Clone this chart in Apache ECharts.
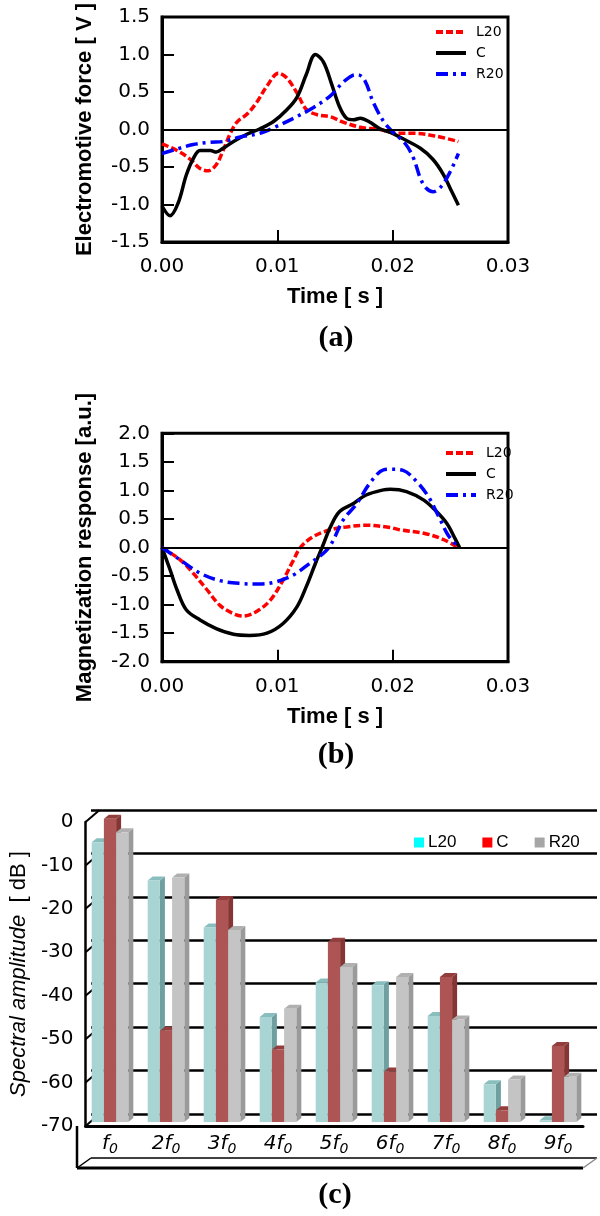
<!DOCTYPE html>
<html>
<head>
<meta charset="utf-8">
<script src="https://cdn.jsdelivr.net/npm/echarts@6/dist/echarts.min.js"></script>
<style>
  html, body { margin: 0; padding: 0; background: #fff; }
  body { width: 600px; height: 1216px; position: relative; overflow: hidden; }
  .panel { position: absolute; left: 0; width: 600px; }
</style>
</head>
<body>
<div id="chart_a" class="panel" style="top:0;height:390px"></div>
<div id="chart_b" class="panel" style="top:380px;height:410px"></div>
<div id="chart_c" class="panel" style="top:790px;height:426px"></div>
<script>
// ---- (a) electromotive force [V] vs time [s] ----
const emfTimeL20 = [0.0000, 0.0013, 0.0024, 0.0033, 0.0040, 0.0047, 0.0053, 0.0059, 0.0065, 0.0074, 0.0082, 0.0091, 0.0101, 0.0108, 0.0117, 0.0125, 0.0134, 0.0146, 0.0157, 0.0172, 0.0189, 0.0203, 0.0218, 0.0238, 0.0257];
const emfL20     = [-0.19, -0.28, -0.39, -0.52, -0.55, -0.47, -0.28, -0.06, 0.10, 0.21, 0.36, 0.58, 0.75, 0.69, 0.49, 0.27, 0.20, 0.17, 0.10, 0.03, 0.00, -0.05, -0.05, -0.09, -0.16];
const emfTimeC   = [0.0000, 0.0007, 0.0014, 0.0021, 0.0027, 0.0033, 0.0042, 0.0047, 0.0053, 0.0062, 0.0074, 0.0085, 0.0097, 0.0108, 0.0117, 0.0125, 0.0133, 0.0140, 0.0147, 0.0154, 0.0160, 0.0166, 0.0172, 0.0180, 0.0189, 0.0200, 0.0206, 0.0224, 0.0235, 0.0244, 0.0251, 0.0257];
const emfC       = [-1.02, -1.15, -0.98, -0.61, -0.39, -0.28, -0.28, -0.30, -0.25, -0.16, -0.06, 0.01, 0.11, 0.26, 0.43, 0.73, 1.00, 0.90, 0.61, 0.30, 0.15, 0.13, 0.15, 0.10, 0.01, -0.05, -0.10, -0.25, -0.40, -0.60, -0.82, -1.01];
const emfTimeR20 = [0.0000, 0.0013, 0.0027, 0.0042, 0.0053, 0.0068, 0.0085, 0.0099, 0.0114, 0.0131, 0.0146, 0.0157, 0.0165, 0.0170, 0.0176, 0.0183, 0.0192, 0.0200, 0.0211, 0.0218, 0.0224, 0.0229, 0.0235, 0.0242, 0.0250, 0.0257];
const emfR20     = [-0.32, -0.26, -0.20, -0.17, -0.16, -0.10, -0.05, 0.04, 0.15, 0.29, 0.45, 0.63, 0.72, 0.73, 0.65, 0.37, 0.11, -0.03, -0.19, -0.38, -0.65, -0.78, -0.83, -0.76, -0.56, -0.32];

// ---- (b) magnetization response [a.u.] vs time [s] ----
const magTimeL20 = [0, 0.0016, 0.0027, 0.0039, 0.0050, 0.0062, 0.0070, 0.0082, 0.0094, 0.0105, 0.0114, 0.0120, 0.0131, 0.0146, 0.0160, 0.0177, 0.0198, 0.0206, 0.0227, 0.0244, 0.0257];
const magL20     = [0, -0.22, -0.45, -0.74, -1.01, -1.16, -1.20, -1.12, -0.92, -0.57, -0.22, 0.00, 0.19, 0.31, 0.36, 0.39, 0.35, 0.31, 0.25, 0.14, 0.00];
const magTimeC   = [0, 0.0007, 0.0013, 0.0021, 0.0033, 0.0047, 0.0062, 0.0076, 0.0091, 0.0105, 0.0117, 0.0125, 0.0133, 0.0139, 0.0146, 0.0154, 0.0166, 0.0177, 0.0192, 0.0198, 0.0212, 0.0227, 0.0238, 0.0247, 0.0254, 0.0258];
const magC       = [0, -0.39, -0.74, -1.09, -1.27, -1.42, -1.52, -1.54, -1.50, -1.33, -1.04, -0.69, -0.28, 0.01, 0.36, 0.63, 0.77, 0.92, 1.01, 1.02, 0.98, 0.83, 0.63, 0.42, 0.16, 0.00];
const magTimeR20 = [0, 0.0016, 0.0033, 0.0050, 0.0068, 0.0085, 0.0099, 0.0114, 0.0128, 0.0140, 0.0147, 0.0157, 0.0169, 0.0180, 0.0192, 0.0198, 0.0209, 0.0221, 0.0231, 0.0240, 0.0248, 0.0257];
const magR20     = [0, -0.22, -0.45, -0.58, -0.63, -0.64, -0.60, -0.48, -0.28, -0.10, 0.07, 0.48, 0.77, 1.12, 1.36, 1.37, 1.35, 1.15, 0.89, 0.54, 0.22, 0.00];

// ---- (c) spectral amplitude [dB] per harmonic ----
const harmonics = ['f0', '2f0', '3f0', '4f0', '5f0', '6f0', '7f0', '8f0', '9f0'];
const specL20 = [-5.6, -14.4, -25.2, -45.8, -37.9, -38.5, -45.6, -61.3, -69.6];
const specC   = [-0.2, -49.0, -18.9, -53.3, -28.5, -58.4, -36.6, -67.3, -52.5];
const specR20 = [-3.3, -13.7, -25.8, -43.9, -34.3, -36.6, -46.4, -60.2, -59.6];
const dbTicks = [0, -10, -20, -30, -40, -50, -60, -70];

const SANS = "'Liberation Sans', Arial, sans-serif";
const WIDE = "'DejaVu Sans', sans-serif";
const SERIF = "'Liberation Serif', 'Times New Roman', serif";

function lineSeries(name, times, vals, color, dash, withZero) {
    const s = {
        name: name,
        type: 'line',
        data: times.map((t, i) => [t, vals[i]]),
        smooth: 0.35,
        symbol: 'none',
        lineStyle: { color: color, width: 3.5, type: dash },
        itemStyle: { color: color }
    };
    if (withZero) {
        s.markLine = {
            silent: true,
            symbol: ['none', 'none'],
            label: { show: false },
            lineStyle: { color: '#000', type: 'solid', width: 2 },
            data: [{ yAxis: 0 }]
        };
    }
    return s;
}

function lineOption(cfg) {
    return {
        animation: false,
        grid: {
            left: 162, top: cfg.top, width: 346, height: cfg.height,
            show: true, borderColor: '#000', borderWidth: 3
        },
        legend: {
            data: ['L20', 'C', 'R20'],
            orient: 'vertical',
            left: cfg.legendLeft, top: cfg.legendTop,
            itemWidth: 30, itemHeight: 14, itemGap: 7,
            itemStyle: { opacity: 0 },
            lineStyle: { width: 4 },
            textStyle: { fontFamily: WIDE, fontSize: 14, color: '#000', padding: [0, 0, 0, 5] }
        },
        xAxis: {
            type: 'value', min: 0, max: 0.03, interval: 0.01,
            name: 'Time [ s ]', nameLocation: 'middle', nameGap: 44,
            nameTextStyle: { fontFamily: SANS, fontWeight: 'bold', fontSize: 22, color: '#000' },
            axisLine: { show: true, onZero: false, lineStyle: { color: '#000', width: 3 } },
            axisTick: { show: true, inside: true, length: 12, lineStyle: { color: '#000', width: 2 } },
            axisLabel: { fontFamily: WIDE, fontSize: 20, color: '#000', margin: 15, formatter: v => v.toFixed(2) },
            splitLine: { show: false }
        },
        yAxis: {
            type: 'value', min: cfg.yMin, max: cfg.yMax, interval: 0.5,
            name: cfg.yName, nameLocation: 'middle', nameGap: 66,
            nameTextStyle: { fontFamily: SANS, fontWeight: 'bold', fontSize: 22, color: '#000' },
            axisLine: { show: true, lineStyle: { color: '#000', width: 3 } },
            axisTick: { show: true, inside: true, length: 12, lineStyle: { color: '#000', width: 2 } },
            axisLabel: { fontFamily: WIDE, fontSize: 20, color: '#000', margin: 12, formatter: v => v.toFixed(1) },
            splitLine: { show: false }
        },
        graphic: [{
            type: 'text', x: 336, y: cfg.captionY,
            style: { text: cfg.caption, fill: '#000', font: 'bold 30px ' + SERIF, align: 'center', verticalAlign: 'middle' }
        }],
        series: cfg.series
    };
}

const chartA = echarts.init(document.getElementById('chart_a'));
chartA.setOption(lineOption({
    top: 13, height: 229, yMin: -1.5, yMax: 1.5,
    yName: 'Electromotive force [ V ]',
    legendLeft: 429, legendTop: 20,
    caption: '(a)', captionY: 338,
    series: [
        lineSeries('L20', emfTimeL20, emfL20, '#ff0000', [7, 3], true),
        lineSeries('C', emfTimeC, emfC, '#000000', 'solid', false),
        lineSeries('R20', emfTimeR20, emfR20, '#0000ff', [12, 5, 3, 5], false)
    ]
}));

const chartB = echarts.init(document.getElementById('chart_b'));
chartB.setOption(lineOption({
    top: 53.3, height: 228.4, yMin: -2, yMax: 2,
    yName: 'Magnetization response [a.u.]',
    legendLeft: 439, legendTop: 61,
    caption: '(b)', captionY: 375,
    series: [
        lineSeries('L20', magTimeL20, magL20, '#ff0000', [7, 3], true),
        lineSeries('C', magTimeC, magC, '#000000', 'solid', false),
        lineSeries('R20', magTimeR20, magR20, '#0000ff', [12, 5, 3, 5], false)
    ]
}));

// ---- (c) pseudo-3D bar chart ----
const DEPTH_X = 14, DEPTH_Y = -12;     // back wall offset from the front edge
const BAR_DX = 5, BAR_DY = -4;         // bar depth
const barShades = {
    L20: { front: '#a9d4d4', side: '#6f9f9f', top: '#88bebe', legend: '#00ffff', slot: -1 },
    C:   { front: '#ad5555', side: '#863434', top: '#943d3d', legend: '#ff0000', slot: 0 },
    R20: { front: '#c4c4c4', side: '#9a9a9a', top: '#b0b0b0', legend: '#a6a6a6', slot: 1 }
};

function barSeries(name, vals) {
    const shade = barShades[name];
    return {
        name: name,
        type: 'custom',
        xAxisIndex: 1, yAxisIndex: 1,
        itemStyle: { color: shade.legend },
        data: vals.map((v, i) => [i, v]),
        renderItem: function (params, api) {
            const top = api.coord([api.value(0), api.value(1)]);
            const base = api.coord([api.value(0), -70]);
            const bw = api.size([1, 0])[0] * 0.218;
            const x0 = top[0] + shade.slot * bw - bw / 2;
            const x1 = x0 + bw;
            return {
                type: 'group',
                children: [
                    { type: 'polygon', shape: { points: [[x1, top[1]], [x1 + BAR_DX, top[1] + BAR_DY], [x1 + BAR_DX, base[1] + BAR_DY], [x1, base[1]]] }, style: { fill: shade.side } },
                    { type: 'polygon', shape: { points: [[x0, top[1]], [x0 + BAR_DX, top[1] + BAR_DY], [x1 + BAR_DX, top[1] + BAR_DY], [x1, top[1]]] }, style: { fill: shade.top } },
                    { type: 'rect', shape: { x: x0, y: top[1], width: bw, height: base[1] - top[1] }, style: { fill: shade.front } }
                ]
            };
        },
        z: 3
    };
}

const chartC = echarts.init(document.getElementById('chart_c'));
chartC.setOption({
    animation: false,
    grid: [
        { left: 77, top: 32, width: 506, height: 304 },   // front edge
        { left: 82, top: 28, width: 504, height: 304 },   // bars
        { left: 77 + DEPTH_X, top: 32 + DEPTH_Y, width: 506, height: 304 } // back wall
    ],
    legend: {
        data: ['L20', 'C', 'R20'],
        left: 409, top: 39,
        icon: 'rect', itemWidth: 10, itemHeight: 10, itemGap: 26,
        textStyle: { fontFamily: SANS, fontSize: 17, color: '#000', padding: [0, 0, 0, -1] }
    },
    xAxis: [
        {
            gridIndex: 0, type: 'value', min: 0, max: 1,
            axisLine: { show: true, onZero: false, lineStyle: { color: '#000', width: 3 } },
            axisTick: { show: false }, axisLabel: { show: false }, splitLine: { show: false }
        },
        {
            gridIndex: 1, type: 'category', data: harmonics,
            axisLine: { show: false }, axisTick: { show: false },
            axisLabel: {
                interval: 0,
                margin: 10,
                formatter: v => '{i|' + v.slice(0, -1) + '}{s|' + v.slice(-1) + '}',
                rich: {
                    i: { fontFamily: WIDE, fontStyle: 'italic', fontSize: 20, color: '#000' },
                    s: { fontFamily: WIDE, fontStyle: 'italic', fontSize: 14, color: '#000', padding: [10, 0, 0, 0] }
                }
            }
        },
        { gridIndex: 2, type: 'value', min: 0, max: 1, show: false }
    ],
    yAxis: [
        {
            gridIndex: 0, type: 'value', min: -70, max: 0, interval: 10,
            name: '{it|Spectral amplitude}  [ dB ]', nameLocation: 'middle', nameGap: 55,
            nameTextStyle: { fontFamily: SANS, fontSize: 22, color: '#000', rich: { it: { fontFamily: SANS, fontStyle: 'italic', fontSize: 22, color: '#000' } } },
            axisLine: { show: true, lineStyle: { color: '#000', width: 2.5 } },
            axisTick: { show: false },
            axisLabel: { fontFamily: WIDE, fontSize: 20, color: '#000', margin: 12 },
            splitLine: { show: false }
        },
        { gridIndex: 1, type: 'value', min: -70, max: 0, show: false },
        {
            gridIndex: 2, type: 'value', min: -70, max: 0, interval: 10,
            axisLine: { show: false }, axisTick: { show: false }, axisLabel: { show: false },
            splitLine: { show: true, lineStyle: { color: '#000', width: 2.5 } }
        }
    ],
    graphic: [
        { type: 'line', shape: { x1: 77, y1: 336, x2: 77, y2: 378 }, style: { stroke: '#000', lineWidth: 2.5 } },
        { type: 'line', shape: { x1: 77, y1: 378, x2: 583, y2: 378 }, style: { stroke: '#000', lineWidth: 3 } },
        { type: 'line', shape: { x1: 77 + DEPTH_X, y1: 378 + DEPTH_Y + 2, x2: 583 + DEPTH_X, y2: 378 + DEPTH_Y + 2 }, style: { stroke: '#000', lineWidth: 1.5 } },
        { type: 'line', shape: { x1: 77, y1: 378, x2: 77 + DEPTH_X, y2: 378 + DEPTH_Y + 2 }, style: { stroke: '#000', lineWidth: 1.5 } },
        { type: 'line', shape: { x1: 583, y1: 378, x2: 583 + DEPTH_X, y2: 378 + DEPTH_Y + 2 }, style: { stroke: '#888', lineWidth: 1.5 } },
        {
            type: 'text', x: 335, y: 405,
            style: { text: '(c)', fill: '#000', font: 'bold 30px ' + SERIF, align: 'center', verticalAlign: 'middle' }
        }
    ],
    series: [
        {
            type: 'custom', xAxisIndex: 0, yAxisIndex: 0, silent: true,
            data: dbTicks.map(v => [0, v]),
            renderItem: function (params, api) {
                const p = api.coord([0, api.value(1)]);
                return {
                    type: 'line',
                    shape: { x1: p[0], y1: p[1], x2: p[0] + DEPTH_X, y2: p[1] + DEPTH_Y },
                    style: { stroke: '#000', lineWidth: 2 }
                };
            },
            z: 1
        },
        barSeries('L20', specL20),
        barSeries('C', specC),
        barSeries('R20', specR20)
    ]
});
</script>
</body>
</html>
